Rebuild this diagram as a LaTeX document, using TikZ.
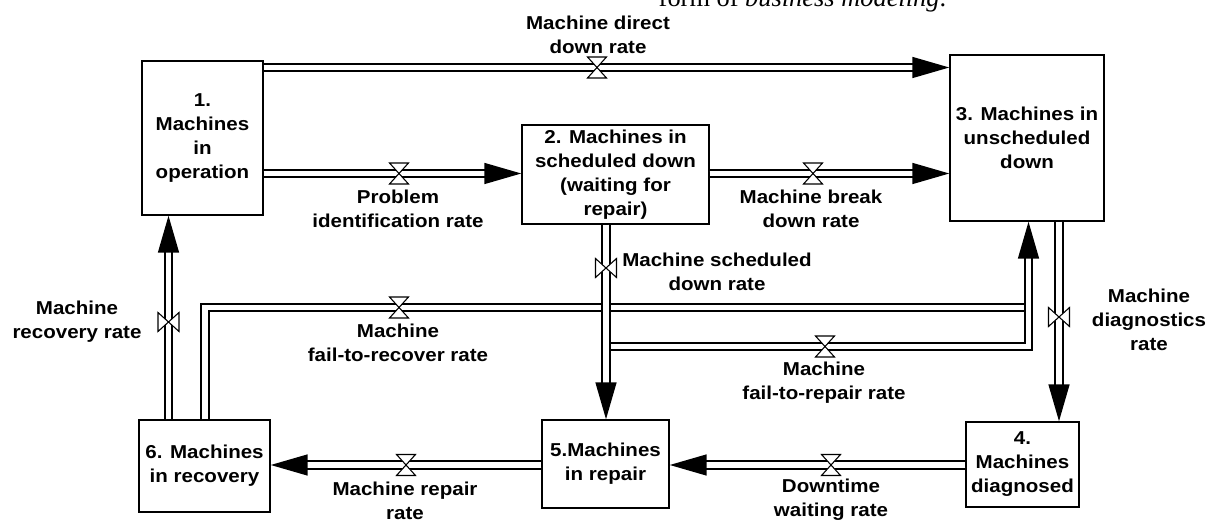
\documentclass[tikz,border=0pt]{standalone}
\usepackage{fontspec}
\setmainfont{Liberation Sans}[FakeStretch=1.1]
\newfontfamily\pageserif{Liberation Serif}
\usetikzlibrary{arrows.meta,positioning}

\tikzset{
  stock/.style={draw, line width=1.1pt, inner sep=0pt, align=center, fill=white},
  pipe/.style={double, line width=1.2pt, double distance=4.4pt},
  flow/.style={-{Triangle[length=27.75pt,width=15.75pt]}},
  ratelbl/.style={align=center},
  valve/.pic={\draw[line width=0.8pt, fill=white] (-9.5,-10.5) -- (9.5,-10.5) -- (-9.5,10.5) -- (9.5,10.5) -- cycle;}
}

\begin{document}
\begin{tikzpicture}[x=0.75pt, y=-0.75pt, every node/.style={font=\bfseries\fontsize{14pt}{18pt}\selectfont}]
  \useasboundingbox (0,0) rectangle (1210,523);

  \node[font=\pageserif\fontsize{19.8pt}{24pt}\selectfont, anchor=base west] (pg) at (654,7) {form of \textit{business modeling}.};

  % stocks
  \node[stock, minimum width=90.75pt, minimum height=115.5pt] (s1) at (202.5,138) {1.\\Machines\\in\\operation};
  \node[stock, minimum width=140.25pt, minimum height=74.25pt] (s2) at (615.5,174.5) {2. Machines in\\scheduled down\\(waiting for\\repair)};
  \node[stock, minimum width=115.5pt, minimum height=124.5pt] (s3) at (1027,138) {3. Machines in\\unscheduled\\down};
  \node[stock, minimum width=84.75pt, minimum height=63.75pt] (s4) at (1022.5,464.5) {4.\\Machines\\diagnosed};
  \node[stock, minimum width=95.25pt, minimum height=66pt] (s5) at (605.5,464) {5.Machines\\in repair};
  \node[stock, minimum width=98.25pt, minimum height=69pt] (s6) at (204.5,466) {6. Machines\\in recovery};

  \coordinate (j1) at (606,346.5);
  \coordinate (j2) at (1028.5,307.5);

  % flows
  \draw[pipe, flow] (s1.east |- 0,67.5) -- (s3.west |- 0,67.5);
  \draw[pipe, flow] (s1.east |- 0,173.5) -- (s2.west |- 0,173.5);
  \draw[pipe, flow] (s2.east |- 0,173.5) -- (s3.west |- 0,173.5);
  \draw[pipe, flow] (s3.south -| 1059,0) -- (s4.north -| 1059,0);
  \draw[pipe, flow] (s4.west |- 0,465) -- (s5.east |- 0,465);
  \draw[pipe, flow] (s5.west |- 0,465) -- (s6.east |- 0,465);
  \draw[pipe, flow] (s6.north -| 168.5,0) -- (s1.south -| 168.5,0);
  \draw[pipe] (s6.north -| 205,0) |- (j2);
  \draw[pipe, flow] (j1) -| (s3.south -| 1028.5,0);
  \draw[pipe, flow] (s2.south -| 606,0) -- (s5.north -| 606,0);

  % valves
  \pic at (597,67.5) {valve};
  \pic at (399,173.5) {valve};
  \pic at (813,173.5) {valve};
  \pic[rotate=90] at (1059,317) {valve};
  \pic at (831,465) {valve};
  \pic at (406,465) {valve};
  \pic[rotate=90] at (168.5,322) {valve};
  \pic at (399,307.5) {valve};
  \pic at (825,346.5) {valve};
  \pic[rotate=90] at (606,268) {valve};

  % rates
  \node[ratelbl] (r1) at (598,35) {Machine direct\\down rate};
  \node[ratelbl] (r2) at (398,209) {Problem\\identification rate};
  \node[ratelbl] (r3) at (811,209) {Machine break\\down rate};
  \node[ratelbl] (r4) at (717,271.5) {Machine scheduled\\down rate};
  \node[ratelbl] (r5) at (1149,319.5) {Machine\\diagnostics\\rate};
  \node[ratelbl] (r6) at (831,500) {Downtime\\waiting rate};
  \node[ratelbl] (r7) at (405,500.5) {Machine repair\\rate};
  \node[ratelbl] (r8) at (77,322) {Machine\\recovery rate};
  \node[ratelbl] (r9) at (398,343) {Machine\\fail-to-recover rate};
  \node[ratelbl] (r10) at (824,382.5) {Machine\\fail-to-repair rate};
\end{tikzpicture}
\end{document}
